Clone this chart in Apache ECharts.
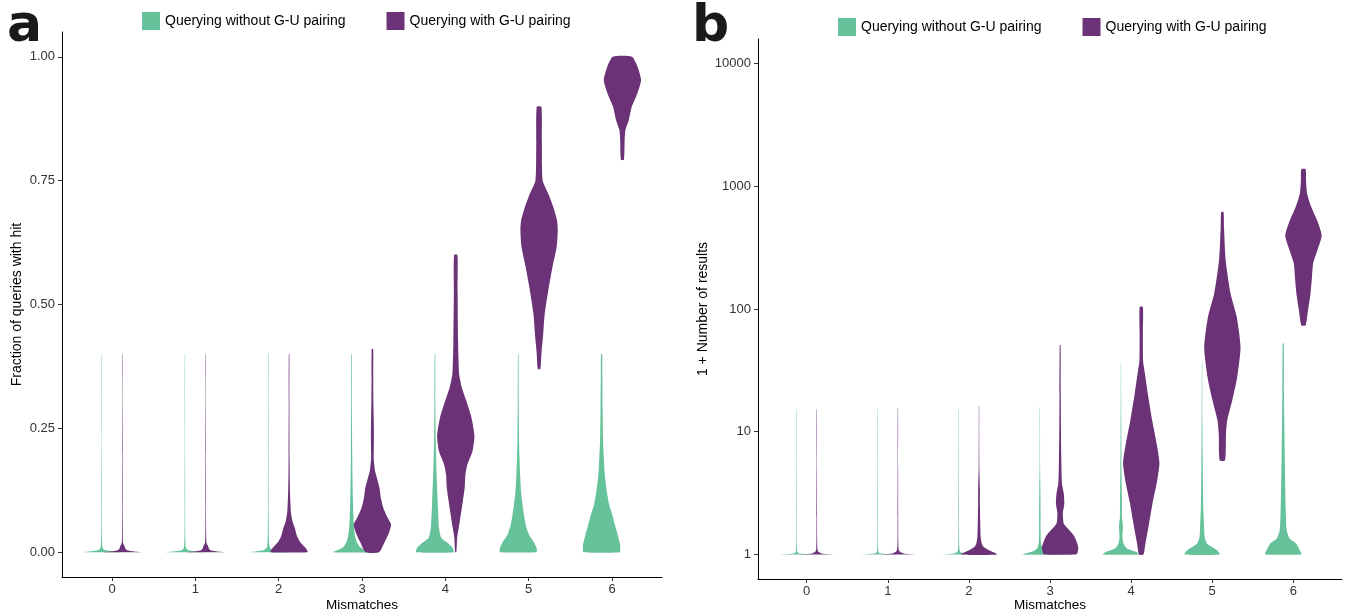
<!DOCTYPE html>
<html>
<head>
<meta charset="utf-8">
<script src="https://cdn.jsdelivr.net/npm/echarts@6/dist/echarts.min.js"></script>
<style>
  html, body { margin: 0; padding: 0; background: #ffffff; }
  #chart { width: 1346px; height: 616px; }
</style>
</head>
<body>
<div id="chart"></div>
<script>
// Mismatch counts on the x axis and the two query modes
const mismatches = [0, 1, 2, 3, 4, 5, 6];
const seriesNames = ['Querying without G-U pairing', 'Querying with G-U pairing'];
const fracTicks = [0, 0.25, 0.5, 0.75, 1];
const countTicks = [1, 10, 100, 1000, 10000];

// Violin outlines: [value, relative density] from bottom to top, one per mismatch count.
// Panel a: fraction of queries with a hit
const fracWithoutGU = [
  [[0,1],[0.002,0.55],[0.004,0.2],[0.007,0.08],[0.012,0.04],[0.02,0.03],[0.035,0.02],[0.06,0.015],[0.1,0.012],[0.2,0.01],[0.3,0.01],[0.4,0.008]],
  [[0,1],[0.002,0.5],[0.004,0.18],[0.007,0.08],[0.012,0.04],[0.02,0.03],[0.035,0.02],[0.06,0.015],[0.1,0.012],[0.2,0.01],[0.3,0.01],[0.4,0.008]],
  [[0,1],[0.002,0.6],[0.004,0.25],[0.008,0.1],[0.012,0.06],[0.02,0.04],[0.04,0.025],[0.1,0.015],[0.2,0.012],[0.3,0.01],[0.4,0.01]],
  [[0,1],[0.005,0.7],[0.01,0.45],[0.02,0.28],[0.03,0.2],[0.045,0.14],[0.07,0.1],[0.1,0.075],[0.15,0.05],[0.2,0.035],[0.3,0.02],[0.4,0.015]],
  [[0,1],[0.009,0.95],[0.016,0.76],[0.029,0.34],[0.049,0.22],[0.09,0.16],[0.123,0.13],[0.157,0.09],[0.191,0.065],[0.225,0.045],[0.3,0.025],[0.4,0.015]],
  [[0,0.97],[0.005,1],[0.009,0.98],[0.022,0.81],[0.036,0.57],[0.056,0.4],[0.09,0.25],[0.123,0.15],[0.157,0.1],[0.191,0.065],[0.225,0.045],[0.3,0.025],[0.4,0.015]],
  [[0,0.97],[0.008,1],[0.016,0.99],[0.036,0.86],[0.056,0.71],[0.076,0.57],[0.097,0.4],[0.123,0.28],[0.157,0.17],[0.191,0.12],[0.225,0.08],[0.292,0.055],[0.36,0.04],[0.4,0.03]]
];
const fracWithGU = [
  [[0,1],[0.002,0.5],[0.004,0.25],[0.008,0.15],[0.012,0.12],[0.016,0.06],[0.02,0.03],[0.04,0.02],[0.1,0.014],[0.2,0.012],[0.3,0.01],[0.4,0.01]],
  [[0,1],[0.002,0.5],[0.004,0.25],[0.008,0.16],[0.012,0.13],[0.016,0.07],[0.02,0.035],[0.04,0.02],[0.1,0.014],[0.2,0.012],[0.3,0.01],[0.4,0.01]],
  [[0,1],[0.005,0.95],[0.01,0.85],[0.02,0.6],[0.03,0.45],[0.04,0.37],[0.05,0.3],[0.06,0.2],[0.07,0.14],[0.08,0.1],[0.1,0.07],[0.12,0.05],[0.15,0.035],[0.2,0.025],[0.3,0.018],[0.4,0.015]],
  [[0,0.36],[0.02,0.65],[0.04,0.89],[0.056,1],[0.07,0.81],[0.09,0.58],[0.11,0.45],[0.13,0.38],[0.15,0.24],[0.165,0.135],[0.19,0.07],[0.22,0.08],[0.25,0.08],[0.3,0.055],[0.35,0.045],[0.41,0.04]],
  [[0,0.03],[0.03,0.08],[0.063,0.22],[0.103,0.38],[0.13,0.48],[0.157,0.52],[0.178,0.63],[0.204,0.9],[0.235,1],[0.272,0.84],[0.306,0.56],[0.333,0.32],[0.36,0.18],[0.427,0.125],[0.528,0.1],[0.6,0.09]],
  [[0.37,0.07],[0.4,0.125],[0.44,0.22],[0.481,0.3],[0.528,0.49],[0.576,0.72],[0.616,0.94],[0.65,1],[0.67,0.96],[0.697,0.76],[0.724,0.49],[0.751,0.19],[0.832,0.15],[0.899,0.125]],
  [[0.792,0.08],[0.832,0.12],[0.852,0.16],[0.872,0.34],[0.899,0.5],[0.927,0.81],[0.953,1],[0.98,0.81],[1.0,0.51]]
];

// Panel b: 1 + number of results (log scale)
const countWithoutGU = [
  [[1,1],[1.01,0.5],[1.02,0.2],[1.03,0.08],[1.05,0.04],[1.1,0.025],[1.3,0.015],[2,0.012],[5,0.01],[10,0.01],[15.2,0.008]],
  [[1,1],[1.01,0.5],[1.02,0.2],[1.03,0.08],[1.05,0.04],[1.1,0.025],[1.3,0.015],[2,0.012],[5,0.01],[10,0.01],[15.5,0.008]],
  [[1,1],[1.01,0.55],[1.02,0.25],[1.04,0.1],[1.07,0.05],[1.15,0.03],[1.3,0.02],[2,0.015],[5,0.012],[10,0.01],[15,0.008]],
  [[1,0.95],[1.05,0.45],[1.12,0.15],[1.25,0.06],[1.6,0.04],[2.2,0.04],[3.5,0.03],[5,0.015],[10,0.01],[15.9,0.008]],
  [[1,1],[1.05,0.82],[1.12,0.33],[1.23,0.14],[1.39,0.08],[1.68,0.11],[2,0.06],[3,0.05],[5,0.03],[10,0.02],[20,0.012],[36.4,0.008]],
  [[1,0.97],[1.08,0.82],[1.15,0.55],[1.23,0.27],[1.39,0.14],[1.68,0.11],[2.29,0.07],[3.5,0.05],[6,0.035],[12,0.02],[25,0.012],[37.6,0.008]],
  [[1,1],[1.05,0.96],[1.23,0.71],[1.35,0.35],[1.58,0.19],[2.29,0.14],[3.14,0.12],[5.86,0.09],[11,0.065],[20.4,0.045],[52.4,0.03]]
];
const countWithGU = [
  [[1,1],[1.01,0.5],[1.02,0.25],[1.04,0.12],[1.06,0.06],[1.1,0.035],[1.3,0.02],[2,0.015],[5,0.012],[15.2,0.01]],
  [[1,1],[1.01,0.55],[1.02,0.3],[1.04,0.15],[1.06,0.08],[1.1,0.04],[1.3,0.02],[2,0.015],[5,0.012],[15.5,0.01]],
  [[1,1],[1.08,0.56],[1.15,0.26],[1.23,0.15],[1.39,0.09],[1.9,0.065],[2.5,0.05],[3.5,0.045],[5,0.02],[10,0.012],[16.2,0.01]],
  [[1,0.85],[1.03,0.95],[1.15,1],[1.39,0.8],[1.58,0.5],[1.79,0.2],[2.16,0.15],[2.6,0.23],[3.14,0.2],[3.79,0.1],[5.86,0.065],[10.9,0.045],[20.5,0.035],[50.7,0.025]],
  [[1,0.12],[1.23,0.23],[1.68,0.4],[2.61,0.62],[4.03,0.88],[5.51,1],[7.53,0.88],[12.4,0.6],[20.4,0.36],[29.9,0.2],[38,0.1],[63,0.09],[104,0.09]],
  [[5.86,0.15],[9.68,0.2],[12.4,0.27],[18.1,0.55],[28,0.82],[49,1],[86.3,0.79],[134,0.45],[251,0.18],[466,0.09],[617,0.065]],
  [[73.8,0.12],[97.7,0.25],[134,0.39],[182,0.47],[234,0.53],[302,0.77],[398,1],[528,0.75],[679,0.43],[871,0.2],[1122,0.14],[1377,0.12]]
];

const GREEN = '#66C29A';
const PURPLE = '#6B3277';
const FONT = '"Liberation Sans", Arial, Helvetica, sans-serif';
const DODGE = 0.125;      // horizontal offset of each group from the tick
const HALF_WIDTH = 0.224; // half-width of a violin at its densest point (x units)

function violinSeries(name, profiles, offset, color, gridIndex) {
  return {
    type: 'custom',
    name: name,
    xAxisIndex: gridIndex,
    yAxisIndex: gridIndex,
    itemStyle: { color: color },
    encode: { x: 0, y: 1 },
    data: profiles.map((p, i) => [mismatches[i], p[p.length - 1][0]]),
    renderItem: function (params, api) {
      const prof = profiles[params.dataIndex];
      const cx = mismatches[params.dataIndex] + offset;
      const right = [], left = [];
      for (const [v, d] of prof) {
        right.push(api.coord([cx + d * HALF_WIDTH, v]));
        left.push(api.coord([cx - d * HALF_WIDTH, v]));
      }
      return {
        type: 'polygon',
        shape: { points: right.concat(left.reverse()), smooth: 0.2 },
        style: { fill: color }
      };
    }
  };
}

function xAxisFor(gridIndex, nameGap) {
  return {
    type: 'value', gridIndex: gridIndex, min: -0.6, max: 6.6,
    name: 'Mismatches', nameLocation: 'middle', nameGap: nameGap, nameMoveOverlap: false,
    nameTextStyle: { fontFamily: FONT, fontSize: 13.5, color: '#000' },
    axisLine: { show: true, onZero: false, lineStyle: { color: '#000', width: 1 } },
    axisTick: { show: true, length: 4, customValues: mismatches, lineStyle: { color: '#333' } },
    axisLabel: { customValues: mismatches, margin: 6, fontFamily: FONT, fontSize: 13, color: '#333' },
    splitLine: { show: false }
  };
}

const panelLetterStyle = { fontFamily: '"DejaVu Sans", sans-serif', fontWeight: 'bold', fontSize: 52, color: '#1a1a1a' };

const chart = echarts.init(document.getElementById('chart'), null, { renderer: 'canvas' });
chart.setOption({
  animation: false,
  backgroundColor: '#ffffff',
  title: [
    { text: 'a', left: 7, top: 1, padding: 0, textStyle: panelLetterStyle },
    { text: 'b', left: 692, top: 1, padding: 0, textStyle: panelLetterStyle }
  ],
  legend: [
    { data: seriesNames, left: 142, top: 12, padding: 0, icon: 'rect', itemWidth: 18, itemHeight: 18, itemGap: 41,
      selectedMode: false, textStyle: { fontFamily: FONT, fontSize: 14, color: '#000' } },
    { data: seriesNames, left: 838, top: 18, padding: 0, icon: 'rect', itemWidth: 18, itemHeight: 18, itemGap: 41,
      selectedMode: false, textStyle: { fontFamily: FONT, fontSize: 14, color: '#000' } }
  ],
  grid: [
    { left: 62, right: 684, top: 32, bottom: 39, outerBoundsMode: 'none', containLabel: false },
    { left: 758, right: 4, top: 39, bottom: 37, outerBoundsMode: 'none', containLabel: false }
  ],
  xAxis: [xAxisFor(0, 21), xAxisFor(1, 19)],
  yAxis: [
    {
      type: 'value', gridIndex: 0, min: -0.05, max: 1.05,
      name: 'Fraction of queries with hit', nameLocation: 'middle', nameGap: 38, nameRotate: 90, nameMoveOverlap: false,
      nameTextStyle: { fontFamily: FONT, fontSize: 14, color: '#000' },
      axisLine: { show: true, onZero: false, lineStyle: { color: '#000', width: 1 } },
      axisTick: { show: true, length: 4, customValues: fracTicks, lineStyle: { color: '#333' } },
      axisLabel: { customValues: fracTicks, margin: 7, fontFamily: FONT, fontSize: 13, color: '#333',
        formatter: v => v.toFixed(2) },
      splitLine: { show: false }
    },
    {
      type: 'log', logBase: 10, gridIndex: 1, min: Math.pow(10, -0.2), max: Math.pow(10, 4.2),
      name: '1 + Number of results', nameLocation: 'middle', nameGap: 48, nameRotate: 90, nameMoveOverlap: false,
      nameTextStyle: { fontFamily: FONT, fontSize: 14, color: '#000' },
      axisLine: { show: true, onZero: false, lineStyle: { color: '#000', width: 1 } },
      axisTick: { show: true, length: 4, customValues: countTicks, lineStyle: { color: '#333' } },
      axisLabel: { customValues: countTicks, margin: 7, fontFamily: FONT, fontSize: 13, color: '#333',
        formatter: v => String(Math.round(v)) },
      splitLine: { show: false }
    }
  ],
  series: [
    violinSeries(seriesNames[0], fracWithoutGU, -DODGE, GREEN, 0),
    violinSeries(seriesNames[1], fracWithGU, DODGE, PURPLE, 0),
    violinSeries(seriesNames[0], countWithoutGU, -DODGE, GREEN, 1),
    violinSeries(seriesNames[1], countWithGU, DODGE, PURPLE, 1)
  ]
});
</script>
</body>
</html>
